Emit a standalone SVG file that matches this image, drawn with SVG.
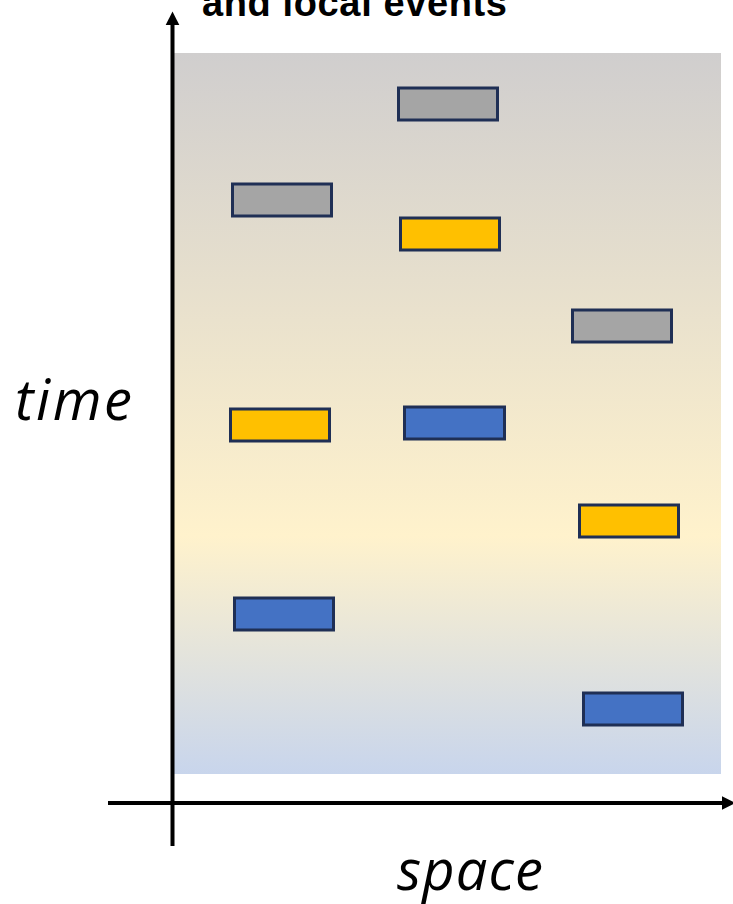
<svg xmlns="http://www.w3.org/2000/svg" width="733" height="904" viewBox="0 0 733 904">
  <defs>
    <linearGradient id="field" x1="0" y1="0" x2="0" y2="1">
      <stop offset="0" stop-color="#D0CECE"/>
      <stop offset="0.67" stop-color="#FFF2CC"/>
      <stop offset="1" stop-color="#C8D5EC"/>
    </linearGradient>
    <marker id="head" viewBox="0 0 10 10" refX="1" refY="5" markerWidth="3.5" markerHeight="4" orient="auto" markerUnits="strokeWidth">
      <path d="M0,0 L10,5 L0,10 Z" fill="#000"/>
    </marker>
  </defs>
  <style>
    .ev { stroke: #1F2F55; stroke-width: 3; }
    .grey { fill: #A5A5A5; }
    .amber { fill: #FFC000; }
    .blue { fill: #4472C4; }
    .axis { stroke: #000; stroke-width: 4; fill: none; }
    .lbl { font-family: "Open Sans", "Noto Sans", "DejaVu Sans", sans-serif; font-style: italic; fill: #000; font-size: 56px; }
  </style>
  <rect width="733" height="904" fill="#FFFFFF"/>

  <!-- title, partly above the top edge -->
  <text x="202" y="16" font-family="Liberation Sans, Arial, sans-serif" font-weight="bold" font-size="38" textLength="305" fill="#000">and local events</text>

  <!-- space-time field -->
  <rect x="174" y="53" width="547" height="721" fill="url(#field)"/>

  <g id="connectors">
    <line class="axis" x1="172.5" y1="846" x2="172.5" y2="24" marker-end="url(#head)"/>
    <line class="axis" x1="108" y1="803" x2="723" y2="803" marker-end="url(#head)"/>
  </g>

  <g id="ev-grey-1"><rect class="ev grey" x="398.5" y="88" width="99" height="32"/></g>
  <g id="ev-grey-2"><rect class="ev grey" x="232.5" y="184" width="99" height="32"/></g>
  <g id="ev-amber-1"><rect class="ev amber" x="400.5" y="218" width="99" height="32"/></g>
  <g id="ev-grey-3"><rect class="ev grey" x="572.5" y="310" width="99" height="32"/></g>
  <g id="ev-amber-2"><rect class="ev amber" x="230.5" y="409" width="99" height="32"/></g>
  <g id="ev-blue-1"><rect class="ev blue" x="404.5" y="407" width="100" height="32"/></g>
  <g id="ev-amber-3"><rect class="ev amber" x="579.5" y="505" width="99" height="32"/></g>
  <g id="ev-blue-2"><rect class="ev blue" x="234.5" y="598" width="99" height="32"/></g>
  <g id="ev-blue-3"><rect class="ev blue" x="583.5" y="693" width="99" height="32"/></g>

  <text class="lbl" x="15" y="420" textLength="117">time</text>
  <text class="lbl" x="397" y="890" textLength="146">space</text>
</svg>
